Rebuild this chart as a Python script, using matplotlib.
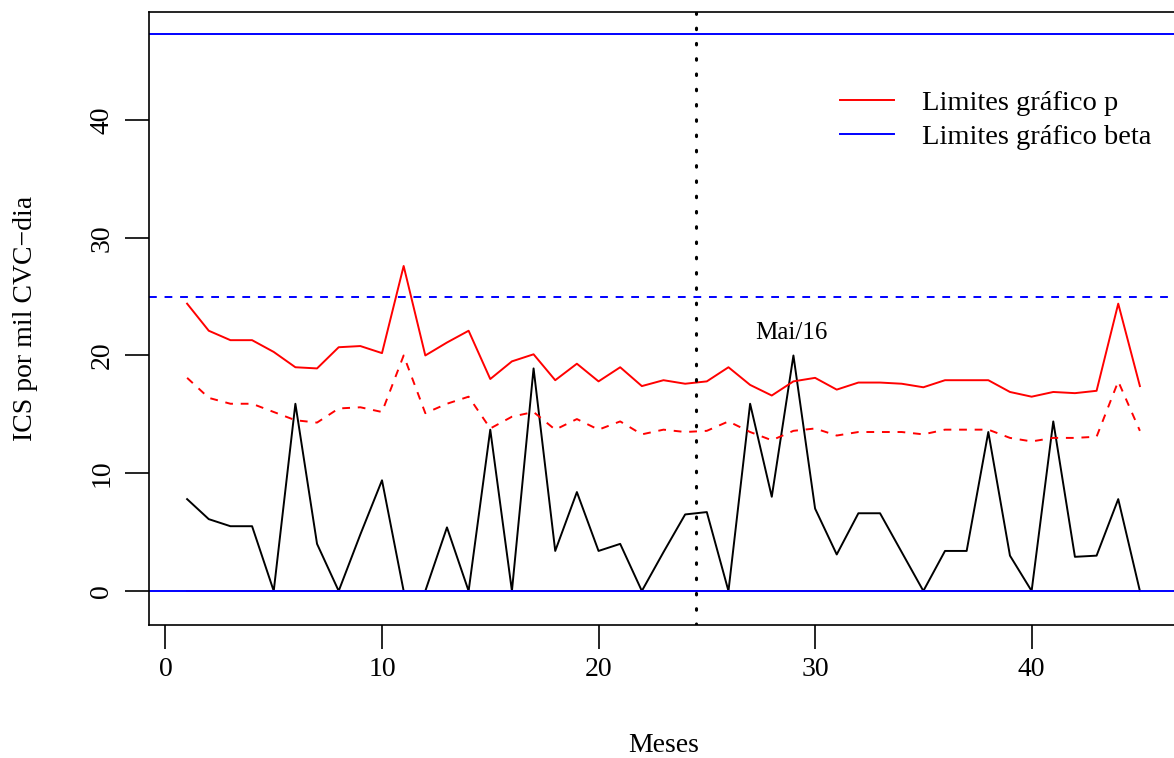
# Recreation of the ICS control chart (p chart vs beta chart limits)
import numpy as np
import matplotlib
matplotlib.use('Agg')
import matplotlib.pyplot as plt

# global parameters
#------------------------------------------------------------------------------
plt.rcParams['font.family'] = ['Liberation Serif', 'DejaVu Serif']
plt.rcParams['font.size'] = 20
#------------------------------------------------------------------------------

# data
#------------------------------------------------------------------------------
meses = np.arange(1, 46)

ics = [7.8, 6.1, 5.5, 5.5, 0.0, 15.9, 4.0, 0.0, 4.8, 9.4,
       0.0, 0.0, 5.4, 0.0, 13.7, 0.0, 18.9, 3.4, 8.4, 3.4,
       4.0, 0.0, 3.3, 6.5, 6.7, 0.0, 15.9, 8.0, 20.0, 7.0,
       3.1, 6.6, 6.6, 3.3, 0.0, 3.4, 3.4, 13.5, 3.0, 0.0,
       14.4, 2.9, 3.0, 7.8, 0.0]

lsc_p = [24.4, 22.1, 21.3, 21.3, 20.3, 19.0, 18.9, 20.7, 20.8, 20.2,
         27.6, 20.0, 21.1, 22.1, 18.0, 19.5, 20.1, 17.9, 19.3, 17.8,
         19.0, 17.4, 17.9, 17.6, 17.8, 19.0, 17.5, 16.6, 17.8, 18.1,
         17.1, 17.7, 17.7, 17.6, 17.3, 17.9, 17.9, 17.9, 16.9, 16.5,
         16.9, 16.8, 17.0, 24.4, 17.4]

lc_p = [18.1, 16.4, 15.9, 15.9, 15.2, 14.5, 14.3, 15.5, 15.6, 15.2,
        20.0, 15.1, 15.9, 16.5, 13.8, 14.8, 15.2, 13.7, 14.6, 13.7,
        14.4, 13.3, 13.7, 13.5, 13.6, 14.4, 13.5, 12.8, 13.6, 13.8,
        13.2, 13.5, 13.5, 13.5, 13.3, 13.7, 13.7, 13.7, 13.0, 12.7,
        13.0, 13.0, 13.1, 17.8, 13.6]

lic_p = [0.0] * 45

# beta chart limits
lsc_beta = 47.3
lc_beta = 25.0
lic_beta = 0.0

corte = 24.5
#------------------------------------------------------------------------------

fig = plt.figure(figsize=(11.74, 7.58), dpi=100)
ax = fig.add_axes([149 / 1174, 1 - 625 / 758, 1029 / 1174, 613 / 758])

# p chart
ax.plot(meses, ics, color='black', lw=1.4)
ax.plot(meses, lsc_p, color='red', lw=1.4)
ax.plot(meses, lc_p, color='red', lw=1.4, ls=(0, (4, 4)))
ax.plot(meses, lic_p, color='red', lw=1.4)

# beta chart
ax.axhline(lsc_beta, color='blue', lw=1.4)
ax.axhline(lc_beta, color='blue', lw=1.4, ls=(0, (4, 4)))
ax.axhline(lic_beta, color='blue', lw=1.4)

ax.axvline(corte, color='black', lw=2.2, ls=(0, (0.5, 4.5)), dash_capstyle='round')
ax.text(28.9, 21.9, 'Mai/16', ha='center', va='center', fontsize=18)

ax.set_xlim(-0.76, 46.76)
ax.set_ylim(-2.89, 49.17)
ax.set_xticks([0, 10, 20, 30, 40])
ax.set_yticks([0, 10, 20, 30, 40])
ax.tick_params(direction='out', length=17, width=1.2, labelsize=20)
ax.tick_params(axis='x', pad=6)
ax.tick_params(axis='y', pad=8)
plt.setp(ax.get_yticklabels(), rotation=90, va='center')
for s in ax.spines.values():
    s.set_linewidth(1.2)

ax.set_xlabel('Meses', fontsize=20, va='center')
ax.xaxis.set_label_coords(0.5, -0.196)
ax.set_ylabel('ICS por mil CVC\u2212dia', fontsize=20, va='center')
ax.yaxis.set_label_coords(-0.1205, 0.5)

ax.plot([], [], color='red', lw=1.4, label='Limites gráfico p')
ax.plot([], [], color='blue', lw=1.4, label='Limites gráfico beta')
handles, labels = ax.get_legend_handles_labels()
ax.legend(handles[-2:], labels[-2:], frameon=False, fontsize=20.5,
          loc='upper left', bbox_to_anchor=(0.647, 0.915),
          handlelength=1.9, handletextpad=0.95, labelspacing=0.3)

fig.savefig('out.png', dpi=100)
